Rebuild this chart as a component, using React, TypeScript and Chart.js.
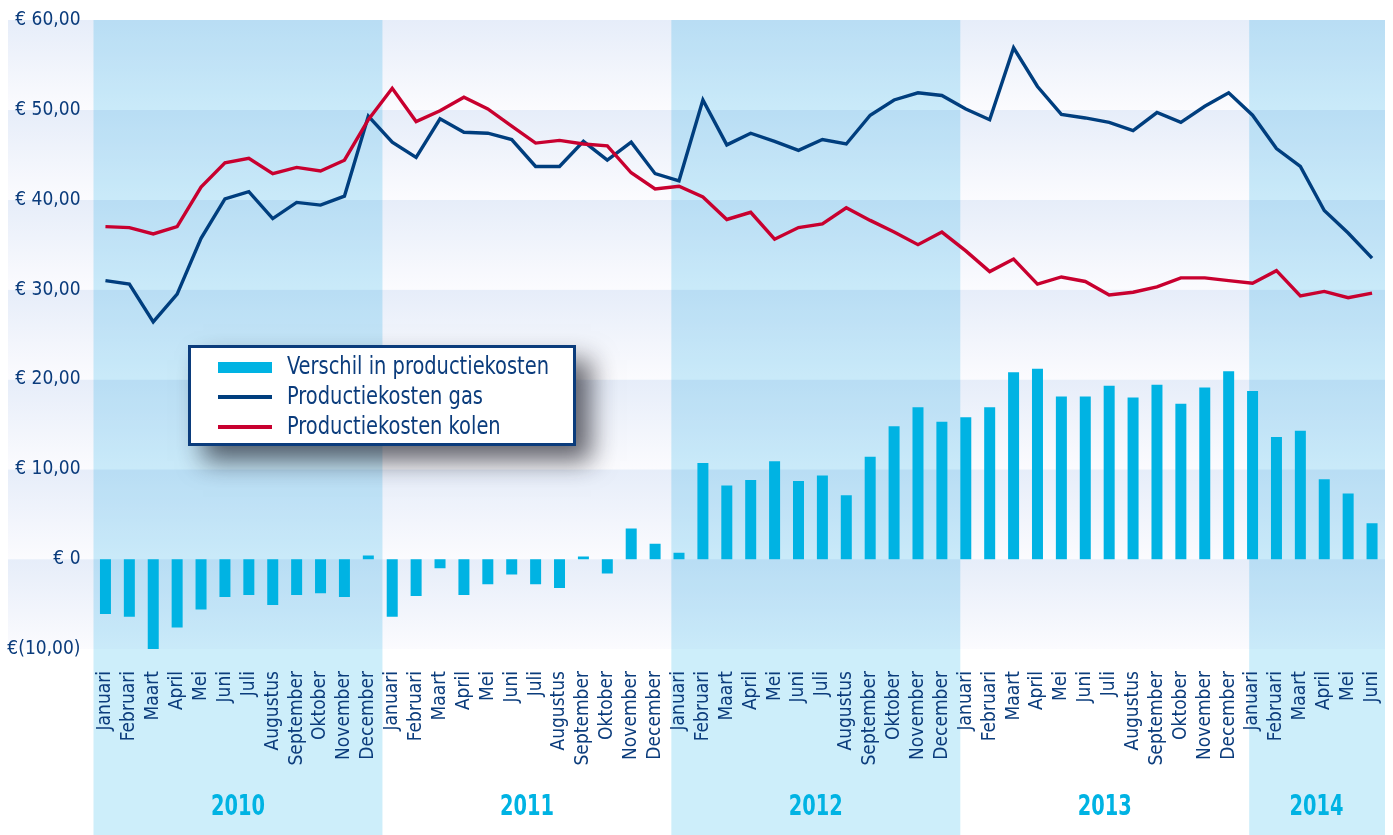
import React, { useEffect, useRef } from 'react';
import { Chart, registerables } from 'chart.js';

Chart.register(...registerables);

const monthNames = ['Januari', 'Februari', 'Maart', 'April', 'Mei', 'Juni', 'Juli', 'Augustus', 'September', 'Oktober', 'November', 'December'];
const years = ['2010', '2011', '2012', '2013', '2014'];
const monthsPerYear = [12, 12, 12, 12, 6];
const categories: string[] = years.flatMap((_, k) => monthNames.slice(0, monthsPerYear[k]));

const gasCosts = [
  31.0, 30.6, 26.4, 29.5, 35.7, 40.1, 40.9, 37.9, 39.7, 39.4, 40.4, 49.3,
  46.4, 44.7, 49.0, 47.5, 47.4, 46.7, 43.7, 43.7, 46.5, 44.4, 46.4, 42.9,
  42.1, 51.1, 46.1, 47.4, 46.5, 45.5, 46.7, 46.2, 49.4, 51.1, 51.9, 51.6,
  50.1, 48.9, 56.9, 52.6, 49.5, 49.1, 48.6, 47.7, 49.7, 48.6, 50.4, 51.9,
  49.4, 45.7, 43.7, 38.8, 36.3, 33.5,
];
const coalCosts = [
  37.0, 36.9, 36.2, 37.0, 41.4, 44.1, 44.6, 42.9, 43.6, 43.2, 44.4, 48.9,
  52.4, 48.7, 49.9, 51.4, 50.1, 48.2, 46.3, 46.6, 46.2, 46.0, 43.0, 41.2,
  41.5, 40.3, 37.8, 38.6, 35.6, 36.9, 37.3, 39.1, 37.7, 36.4, 35.0, 36.4,
  34.3, 32.0, 33.4, 30.6, 31.4, 30.9, 29.4, 29.7, 30.3, 31.3, 31.3, 31.0,
  30.7, 32.1, 29.3, 29.8, 29.1, 29.6,
];
const costDifference = [
  -6.1, -6.4, -10.0, -7.6, -5.6, -4.2, -4.0, -5.1, -4.0, -3.8, -4.2, 0.4,
  -6.4, -4.1, -1.0, -4.0, -2.8, -1.7, -2.8, -3.2, 0.3, -1.6, 3.4, 1.7,
  0.7, 10.7, 8.2, 8.8, 10.9, 8.7, 9.3, 7.1, 11.4, 14.8, 16.9, 15.3,
  15.8, 16.9, 20.8, 21.2, 18.1, 18.1, 19.3, 18.0, 19.4, 17.3, 19.1, 20.9,
  18.7, 13.6, 14.3, 8.9, 7.3, 4.0,
];

const yTickValues = [60, 50, 40, 30, 20, 10, 0, -10];
const yTickLabels = ['€ 60,00', '€ 50,00', '€ 40,00', '€ 30,00', '€ 20,00', '€ 10,00', '€ 0', '€(10,00)'];

const NAVY = '#0b3c7c';
const LINE_NAVY = '#003e7e';
const RED = '#c8002f';
const CYAN = '#00b3e3';
const FONT = '"Liberation Sans Narrow", "DejaVu Sans Condensed", "Roboto Condensed", Arial, sans-serif';

// band width of one year on the original, in category units (bands drift slightly from the months)
const BAND_MONTHS = 12.09;

function scaledText(ctx: any, text: string, x: number, y: number, sx: number) {
  ctx.save();
  ctx.translate(x, y);
  ctx.scale(sx, 1);
  ctx.fillText(text, 0, 0);
  ctx.restore();
}

const backgroundPlugin = {
  id: 'bgBands',
  beforeDraw(chart: any) {
    const { ctx, chartArea, scales, width, height } = chart;
    const x = scales.x;
    const y = scales.y;
    ctx.save();
    ctx.fillStyle = '#ffffff';
    ctx.fillRect(0, 0, width, height);
    const left = 8;
    const right = chartArea.right + 1;
    for (let v = -10; v < 60; v += 10) {
      const top = y.getPixelForValue(v + 10);
      const bot = y.getPixelForValue(v);
      const g = ctx.createLinearGradient(0, top, 0, bot);
      g.addColorStop(0, '#e6edf9');
      g.addColorStop(1, '#fbfbfe');
      ctx.fillStyle = g;
      ctx.fillRect(left, top, right - left, bot - top);
    }
    ctx.globalCompositeOperation = 'multiply';
    ctx.fillStyle = '#cdeefa';
    const bandTop = chartArea.top;
    for (let k = 0; k < years.length; k += 2) {
      const s = x.getPixelForValue(-0.5 + k * BAND_MONTHS);
      const e = k === years.length - 1 ? right : x.getPixelForValue(-0.5 + (k + 1) * BAND_MONTHS);
      ctx.fillRect(s, bandTop, e - s, height - bandTop);
    }
    ctx.restore();
  },
  afterDraw(chart: any) {
    const { ctx, chartArea, scales } = chart;
    const x = scales.x;
    ctx.save();
    // year labels
    ctx.fillStyle = CYAN;
    ctx.font = `bold 28px ${FONT}`;
    ctx.textAlign = 'center';
    ctx.textBaseline = 'middle';
    for (let k = 0; k < years.length; k++) {
      const s = x.getPixelForValue(-0.5 + k * BAND_MONTHS);
      const e = k === years.length - 1 ? chartArea.right : x.getPixelForValue(-0.5 + (k + 1) * BAND_MONTHS);
      scaledText(ctx, years[k], (s + e) / 2, 808, 0.77);
    }
    // legend
    const lx = 188, ly = 345, lw = 388, lh = 101;
    ctx.save();
    ctx.shadowColor = 'rgba(20,20,30,0.65)';
    ctx.shadowBlur = 24;
    ctx.shadowOffsetX = 15;
    ctx.shadowOffsetY = 15;
    ctx.fillStyle = '#ffffff';
    ctx.fillRect(lx, ly, lw, lh);
    ctx.restore();
    ctx.strokeStyle = NAVY;
    ctx.lineWidth = 3;
    ctx.strokeRect(lx + 1.5, ly + 1.5, lw - 3, lh - 3);
    const ds = chart.data.datasets;
    ctx.font = `24px ${FONT}`;
    ctx.textAlign = 'left';
    ctx.textBaseline = 'middle';
    for (let i = 0; i < ds.length; i++) {
      const cy = ly + 22 + i * 30;
      if (ds[i].type === 'bar') {
        ctx.fillStyle = ds[i].backgroundColor;
        ctx.fillRect(lx + 30, cy - 5, 54, 11);
      } else {
        ctx.fillStyle = ds[i].borderColor;
        ctx.fillRect(lx + 30, cy - 2, 54, 4);
      }
      ctx.fillStyle = NAVY;
      scaledText(ctx, ds[i].label, lx + 99, cy + 1, 0.9);
    }
    ctx.restore();
  },
};

export default function App() {
  const ref = useRef<HTMLCanvasElement | null>(null);
  useEffect(() => {
    if (!ref.current) return;
    const chart = new Chart(ref.current, {
      type: 'bar',
      data: {
        labels: categories,
        datasets: [
          {
            type: 'bar',
            label: 'Verschil in productiekosten',
            data: costDifference,
            backgroundColor: CYAN,
            barPercentage: 0.46,
            categoryPercentage: 1,
            order: 3,
          },
          {
            type: 'line',
            label: 'Productiekosten gas',
            data: gasCosts,
            borderColor: LINE_NAVY,
            backgroundColor: LINE_NAVY,
            borderWidth: 3.4,
            pointRadius: 0,
            tension: 0,
            order: 2,
          },
          {
            type: 'line',
            label: 'Productiekosten kolen',
            data: coalCosts,
            borderColor: RED,
            backgroundColor: RED,
            borderWidth: 3.4,
            pointRadius: 0,
            tension: 0,
            order: 1,
          },
        ] as any,
      },
      options: {
        responsive: false,
        animation: false,
        devicePixelRatio: 1,
        layout: { padding: { top: 20, right: 9, left: 0, bottom: 0 } },
        plugins: { legend: { display: false }, tooltip: { enabled: false } },
        scales: {
          x: {
            offset: true,
            grid: { display: false, drawTicks: false },
            border: { display: false },
            ticks: {
              autoSkip: false,
              maxRotation: 90,
              minRotation: 90,
              padding: 22,
              color: NAVY,
              font: { family: FONT, size: 19 },
            },
            afterFit(scale: any) {
              scale.height = 186;
              scale.paddingLeft = 0;
              scale.paddingRight = 0;
            },
          },
          y: {
            min: -10,
            max: 60,
            grid: { display: false, drawTicks: false },
            border: { display: false },
            ticks: {
              stepSize: 10,
              padding: 13,
              color: NAVY,
              font: { family: FONT, size: 19 },
              callback: (v: any) => {
                const i = yTickValues.indexOf(Number(v));
                return i >= 0 ? yTickLabels[i] : '';
              },
            },
            afterFit(scale: any) {
              scale.width = 93.5;
              scale.paddingTop = 0;
              scale.paddingBottom = 0;
            },
          },
        },
      },
      plugins: [backgroundPlugin],
    });
    return () => chart.destroy();
  }, []);
  return (
    <div style={{ position: 'absolute', left: 0, top: 0, width: 1393, height: 835 }}>
      <canvas ref={ref} width={1393} height={835} style={{ display: 'block' }} />
    </div>
  );
}
